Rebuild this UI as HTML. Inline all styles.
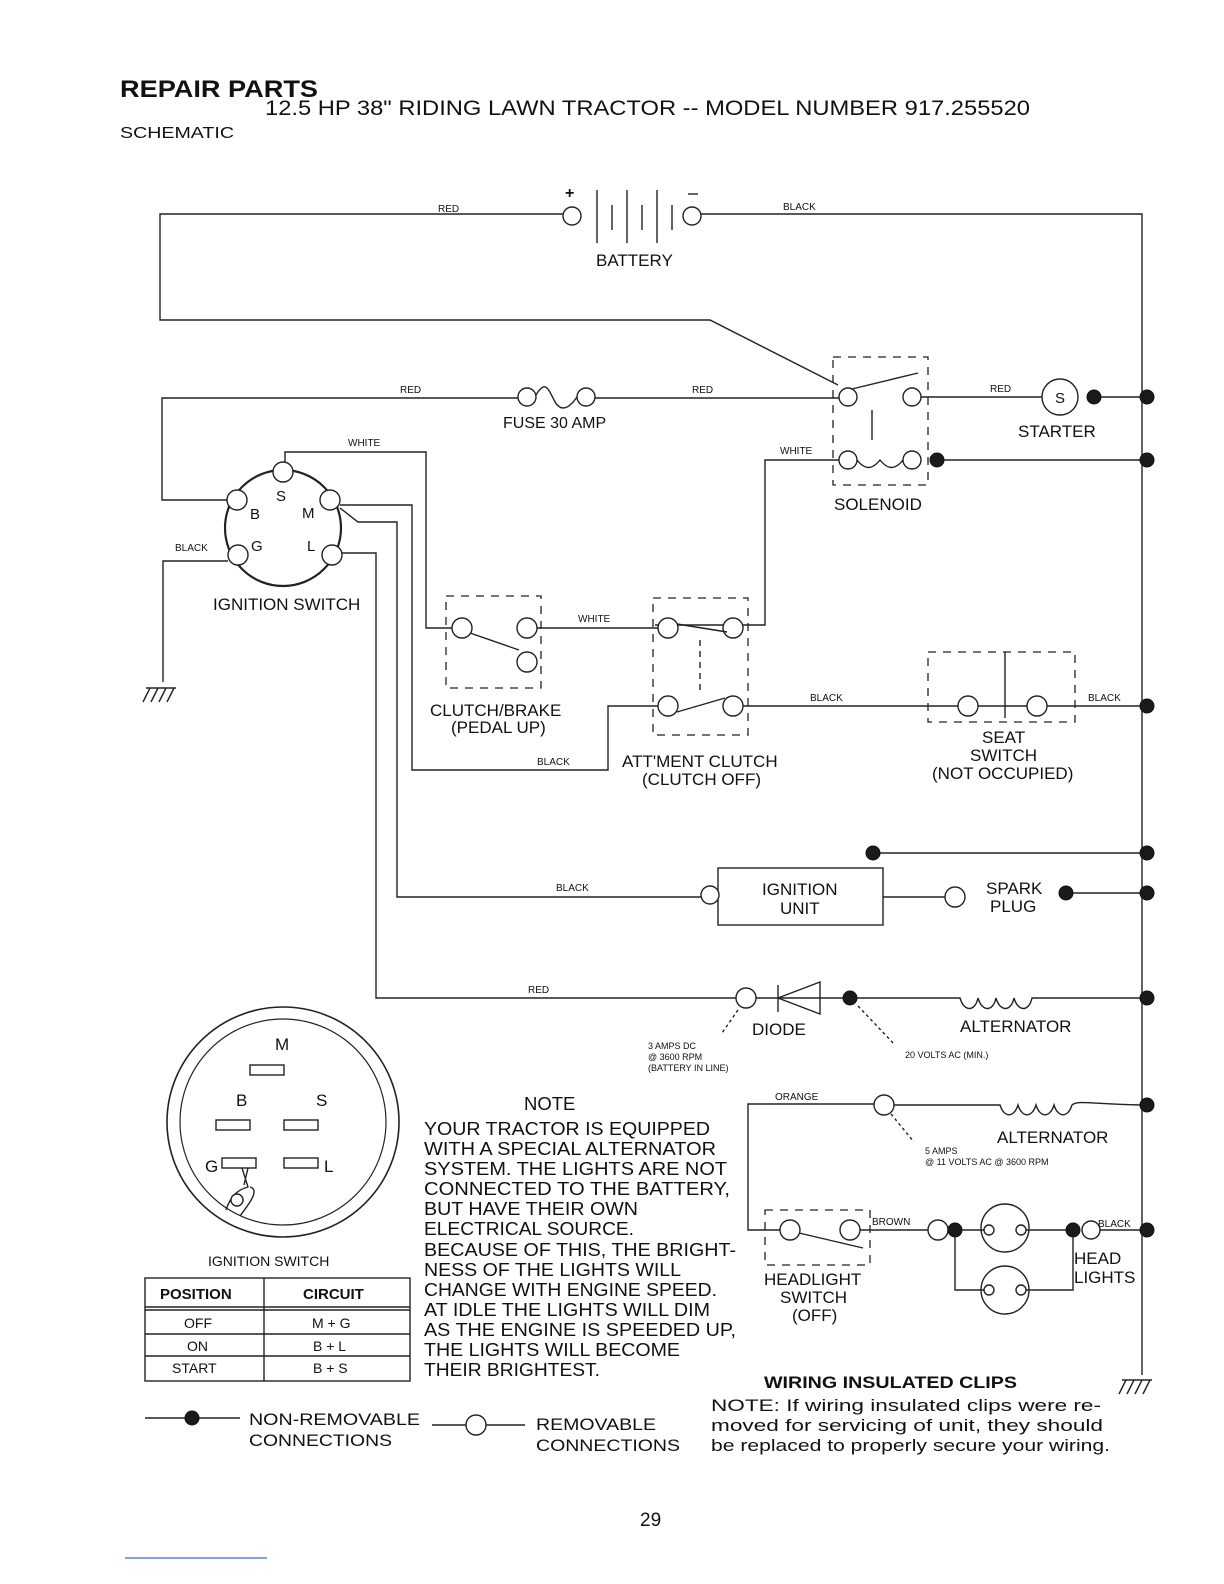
<!DOCTYPE html>
<html><head><meta charset="utf-8"><style>
html,body{margin:0;padding:0;background:#fff}
svg{display:block}
text{font-family:"Liberation Sans",Arial,sans-serif;fill:#111}
.w{stroke:#222;stroke-width:1.4;fill:none}
.c{stroke:#222;stroke-width:1.4;fill:#fff}
.d{fill:#1a1a1a;stroke:#111}
.dash{stroke:#222;stroke-width:1.3;fill:none;stroke-dasharray:8 7}
.s{font-size:10px}
.m{font-size:17px}
</style></head><body>
<svg width="1224" height="1584" viewBox="0 0 1224 1584" xmlns="http://www.w3.org/2000/svg">
<text x="120" y="97" font-size="24" font-weight="bold" textLength="198" lengthAdjust="spacingAndGlyphs">REPAIR PARTS</text>
<text x="265" y="115" font-size="21" textLength="765" lengthAdjust="spacingAndGlyphs">12.5 HP 38" RIDING LAWN TRACTOR -- MODEL NUMBER 917.255520</text>
<text x="120" y="138" font-size="16" textLength="114" lengthAdjust="spacingAndGlyphs">SCHEMATIC</text>

<!-- battery loop -->
<path class="w" d="M563 214H160V320H710L838 385"/>
<circle class="c" cx="572" cy="216" r="9"/>
<text x="565" y="198" font-size="16" font-weight="bold">+</text>
<path class="w" d="M597 190V243M612 205V230M627 190V243M642 205V230M657 190V243M672 205V230"/>
<circle class="c" cx="692" cy="216" r="9"/>
<path class="w" d="M688 194H698"/>
<path class="w" d="M701 214H1142V1375"/>
<text x="438" y="212" class="s">RED</text>
<text x="783" y="210" class="s">BLACK</text>
<text x="596" y="266" class="m">BATTERY</text>

<!-- fuse -->
<path class="w" d="M518 398H162V500H228"/>
<circle class="c" cx="527" cy="397" r="9"/>
<path class="w" d="M536 395C545 380 548 388 554 400C560 412 568 410 577 397"/>
<circle class="c" cx="586" cy="397" r="9"/>
<path class="w" d="M595 398H839"/>
<text x="400" y="393" class="s">RED</text>
<text x="692" y="393" class="s">RED</text>
<text x="503" y="428" font-size="16">FUSE 30 AMP</text>

<!-- solenoid -->
<rect class="dash" x="833" y="357" width="95" height="128"/>
<circle class="c" cx="848" cy="397" r="9"/>
<circle class="c" cx="912" cy="397" r="9"/>
<path class="w" d="M852 389L918 373"/>
<path class="w" d="M872 410V440"/>
<circle class="c" cx="848" cy="460" r="9"/>
<circle class="c" cx="912" cy="460" r="9"/>
<path class="w" d="M857 460C865 470 872 470 880 460C888 470 895 470 903 460"/>
<circle class="d" cx="937" cy="460" r="7"/>
<path class="w" d="M944 460H1140"/>
<circle class="d" cx="1147" cy="460" r="7"/>
<path class="w" d="M921 397H1042"/>
<circle class="c" cx="1060" cy="397" r="18"/>
<text x="1055" y="403" font-size="15">S</text>
<circle class="d" cx="1094" cy="397" r="7"/>
<path class="w" d="M1101 397H1140"/>
<circle class="d" cx="1147" cy="397" r="7"/>
<text x="990" y="392" class="s">RED</text>
<text x="1018" y="437" class="m">STARTER</text>
<text x="834" y="510" class="m">SOLENOID</text>
<path class="w" d="M839 460H765V625H655"/>
<text x="780" y="454" class="s">WHITE</text>

<!-- ignition switch -->
<circle cx="283" cy="528" r="58" fill="none" stroke="#222" stroke-width="2.2"/>
<circle class="c" cx="283" cy="472" r="10"/>
<circle class="c" cx="237" cy="500" r="10"/>
<circle class="c" cx="330" cy="500" r="10"/>
<circle class="c" cx="238" cy="555" r="10"/>
<circle class="c" cx="332" cy="555" r="10"/>
<text x="276" y="501" font-size="15">S</text>
<text x="250" y="519" font-size="15">B</text>
<text x="302" y="518" font-size="15">M</text>
<text x="251" y="551" font-size="15">G</text>
<text x="307" y="551" font-size="15">L</text>
<text x="213" y="610" class="m">IGNITION SWITCH</text>
<path class="w" d="M228 561H163V682"/>
<path class="w" d="M150 688L143 702M158 688L151 702M166 688L159 702M174 688L167 702M146 688H176"/>
<text x="175" y="551" class="s">BLACK</text>
<path class="w" d="M285 462V452H426V628H453"/>
<text x="348" y="446" class="s">WHITE</text>
<path class="w" d="M340 505H412V770H608V706H659"/>
<path class="w" d="M340 508L358 522H397V897H706"/>
<path class="w" d="M342 553H376V998H737"/>
<text x="537" y="765" class="s">BLACK</text>
<text x="556" y="891" class="s">BLACK</text>
<text x="528" y="993" class="s">RED</text>

<!-- clutch/brake -->
<rect class="dash" x="446" y="596" width="95" height="92"/>
<circle class="c" cx="462" cy="628" r="10"/>
<circle class="c" cx="527" cy="628" r="10"/>
<circle class="c" cx="527" cy="662" r="10"/>
<path class="w" d="M470 633L519 650"/>
<path class="w" d="M537 628H659"/>
<text x="578" y="622" class="s">WHITE</text>
<text x="430" y="716" class="m">CLUTCH/BRAKE</text>
<text x="451" y="733" class="m">(PEDAL UP)</text>

<!-- attment clutch -->
<rect class="dash" x="653" y="598" width="95" height="137"/>
<circle class="c" cx="668" cy="628" r="10"/>
<circle class="c" cx="733" cy="628" r="10"/>
<circle class="c" cx="668" cy="706" r="10"/>
<circle class="c" cx="733" cy="706" r="10"/>
<path class="w" d="M677 624L727 632M677 712L725 698"/>
<path class="w" d="M700 640V694" stroke-dasharray="6 5"/>
<path class="w" d="M743 706H958"/>
<text x="810" y="701" class="s">BLACK</text>
<text x="622" y="767" class="m">ATT'MENT CLUTCH</text>
<text x="642" y="785" class="m">(CLUTCH OFF)</text>

<!-- seat switch -->
<rect class="dash" x="928" y="652" width="147" height="70"/>
<circle class="c" cx="968" cy="706" r="10"/>
<circle class="c" cx="1037" cy="706" r="10"/>
<path class="w" d="M1005 652V718M978 706H1027"/>
<path class="w" d="M1047 706H1140"/>
<circle class="d" cx="1147" cy="706" r="7"/>
<text x="1088" y="701" class="s">BLACK</text>
<text x="982" y="743" class="m">SEAT</text>
<text x="970" y="761" class="m">SWITCH</text>
<text x="932" y="779" class="m">(NOT OCCUPIED)</text>

<!-- ignition unit -->
<rect class="w" x="718" y="868" width="165" height="57"/>
<circle class="c" cx="710" cy="895" r="9"/>
<text x="762" y="895" class="m">IGNITION</text>
<text x="780" y="914" class="m">UNIT</text>
<path class="w" d="M883 897H945"/>
<circle class="c" cx="955" cy="897" r="10"/>
<text x="986" y="894" class="m">SPARK</text>
<text x="990" y="912" class="m">PLUG</text>
<circle class="d" cx="1066" cy="893" r="7"/>
<path class="w" d="M1073 893H1140"/>
<circle class="d" cx="1147" cy="893" r="7"/>
<circle class="d" cx="873" cy="853" r="7"/>
<path class="w" d="M880 853H1140"/>
<circle class="d" cx="1147" cy="853" r="7"/>

<!-- diode -->
<circle class="c" cx="746" cy="998" r="10"/>
<path class="w" d="M756 998H843"/>
<path class="w" d="M778 985V1012M778 998L820 982V1014Z"/>
<circle class="d" cx="850" cy="998" r="7"/>
<path class="w" d="M857 998H960C964 1012 975 1012 978 998C982 1012 993 1012 996 998C1000 1012 1011 1012 1014 998C1018 1012 1029 1012 1032 998H1140"/>
<circle class="d" cx="1147" cy="998" r="7"/>
<text x="752" y="1035" class="m">DIODE</text>
<text x="960" y="1032" class="m">ALTERNATOR</text>
<path class="w" d="M738 1010L722 1033M858 1006L895 1045" stroke-dasharray="3 3"/>
<text x="648" y="1049" font-size="9">3 AMPS DC</text>
<text x="648" y="1060" font-size="9">@ 3600 RPM</text>
<text x="648" y="1071" font-size="9">(BATTERY IN LINE)</text>
<text x="905" y="1058" font-size="9">20 VOLTS AC (MIN.)</text>

<!-- ignition switch diagram -->
<ellipse cx="283" cy="1122" rx="116" ry="115" fill="none" stroke="#222" stroke-width="1.6"/>
<ellipse cx="283" cy="1122" rx="103" ry="103" fill="none" stroke="#222" stroke-width="1.2"/>
<text x="275" y="1050" class="m">M</text>
<rect class="w" x="250" y="1065" width="34" height="10"/>
<text x="236" y="1106" class="m">B</text>
<rect class="w" x="216" y="1120" width="34" height="10"/>
<text x="316" y="1106" class="m">S</text>
<rect class="w" x="284" y="1120" width="34" height="10"/>
<text x="205" y="1172" class="m">G</text>
<rect class="w" x="222" y="1158" width="34" height="10"/>
<rect class="w" x="284" y="1158" width="34" height="10"/>
<text x="324" y="1172" class="m">L</text>
<path class="w" d="M226 1210C230 1198 236 1190 248 1187L242 1168M250 1187C262 1190 244 1210 240 1216M248 1168L244 1185"/>
<circle class="c" cx="237" cy="1200" r="6"/>
<text x="208" y="1266" font-size="14">IGNITION SWITCH</text>
<rect class="w" x="145" y="1278" width="265" height="103"/>
<path class="w" d="M264 1278V1381M145 1310H410M145 1334H410M145 1356H410"/>
<path class="w" d="M145 1307H410" stroke-width="1"/>
<text x="160" y="1299" font-size="15" font-weight="bold">POSITION</text>
<text x="303" y="1299" font-size="15" font-weight="bold">CIRCUIT</text>
<text x="184" y="1328" font-size="14">OFF</text>
<text x="312" y="1328" font-size="14">M + G</text>
<text x="187" y="1351" font-size="14">ON</text>
<text x="313" y="1351" font-size="14">B + L</text>
<text x="172" y="1373" font-size="14">START</text>
<text x="313" y="1373" font-size="14">B + S</text>

<!-- note -->
<g font-size="18.5" lengthAdjust="spacingAndGlyphs">
<text x="524" y="1110">NOTE</text>
<text x="424" y="1135" textLength="286" lengthAdjust="spacingAndGlyphs">YOUR TRACTOR IS EQUIPPED</text>
<text x="424" y="1155" textLength="292" lengthAdjust="spacingAndGlyphs">WITH A SPECIAL ALTERNATOR</text>
<text x="424" y="1175" textLength="303" lengthAdjust="spacingAndGlyphs">SYSTEM.  THE LIGHTS ARE NOT</text>
<text x="424" y="1195" textLength="306" lengthAdjust="spacingAndGlyphs">CONNECTED TO  THE BATTERY,</text>
<text x="424" y="1215" textLength="214" lengthAdjust="spacingAndGlyphs">BUT HAVE THEIR OWN</text>
<text x="424" y="1235" textLength="210" lengthAdjust="spacingAndGlyphs">ELECTRICAL SOURCE.</text>
<text x="424" y="1256" textLength="312" lengthAdjust="spacingAndGlyphs">BECAUSE OF THIS, THE BRIGHT-</text>
<text x="424" y="1276" textLength="257" lengthAdjust="spacingAndGlyphs">NESS OF THE LIGHTS WILL</text>
<text x="424" y="1296" textLength="293" lengthAdjust="spacingAndGlyphs">CHANGE WITH ENGINE SPEED.</text>
<text x="424" y="1316" textLength="286" lengthAdjust="spacingAndGlyphs">AT IDLE THE LIGHTS WILL DIM</text>
<text x="424" y="1336" textLength="312" lengthAdjust="spacingAndGlyphs">AS THE ENGINE IS SPEEDED UP,</text>
<text x="424" y="1356" textLength="256" lengthAdjust="spacingAndGlyphs">THE LIGHTS WILL BECOME</text>
<text x="424" y="1376" textLength="176" lengthAdjust="spacingAndGlyphs">THEIR BRIGHTEST.</text>
</g>

<!-- lights alternator -->
<path class="w" d="M875 1104H748V1230H780"/>
<text x="775" y="1100" class="s">ORANGE</text>
<circle class="c" cx="884" cy="1105" r="10"/>
<path class="w" d="M894 1105H1000C1004 1118 1014 1118 1018 1105C1022 1118 1032 1118 1036 1105C1040 1118 1050 1118 1054 1105C1058 1118 1068 1118 1072 1105C1078 1100 1090 1104 1140 1105"/>
<circle class="d" cx="1147" cy="1105" r="7"/>
<path class="w" d="M891 1114L914 1142" stroke-dasharray="3 3"/>
<text x="997" y="1143" class="m">ALTERNATOR</text>
<text x="925" y="1154" font-size="9">5 AMPS</text>
<text x="925" y="1165" font-size="9">@ 11 VOLTS AC @ 3600 RPM</text>
<rect class="dash" x="765" y="1210" width="105" height="55"/>
<circle class="c" cx="790" cy="1230" r="10"/>
<circle class="c" cx="850" cy="1230" r="10"/>
<path class="w" d="M799 1233L863 1248"/>
<path class="w" d="M860 1230H928"/>
<text x="872" y="1225" class="s">BROWN</text>
<circle class="c" cx="938" cy="1230" r="10"/>
<circle class="d" cx="955" cy="1230" r="7"/>
<circle class="c" cx="1005" cy="1228" r="24"/>
<circle class="c" cx="989" cy="1230" r="5"/>
<circle class="c" cx="1021" cy="1230" r="5"/>
<circle class="c" cx="1005" cy="1290" r="24"/>
<circle class="c" cx="989" cy="1290" r="5"/>
<circle class="c" cx="1021" cy="1290" r="5"/>
<path class="w" d="M962 1230H984M1026 1230H1066M955 1237V1290H984M1026 1290H1073V1237"/>
<circle class="d" cx="1073" cy="1230" r="7"/>
<circle class="c" cx="1091" cy="1230" r="9"/>
<path class="w" d="M1100 1230H1140"/>
<circle class="d" cx="1147" cy="1230" r="7"/>
<text x="1098" y="1227" class="s">BLACK</text>
<text x="1074" y="1264" class="m">HEAD</text>
<text x="1074" y="1283" class="m">LIGHTS</text>
<text x="764" y="1285" class="m">HEADLIGHT</text>
<text x="780" y="1303" class="m">SWITCH</text>
<text x="792" y="1321" class="m">(OFF)</text>
<path class="w" d="M1126 1380L1119 1394M1134 1380L1127 1394M1142 1380L1135 1394M1150 1380L1143 1394M1122 1380H1152"/>

<!-- legend -->
<path class="w" d="M145 1418H240"/>
<circle class="d" cx="192" cy="1418" r="7"/>
<text x="249" y="1425" class="m" textLength="171" lengthAdjust="spacingAndGlyphs">NON-REMOVABLE</text>
<text x="249" y="1446" class="m" textLength="143" lengthAdjust="spacingAndGlyphs">CONNECTIONS</text>
<path class="w" d="M432 1425H525"/>
<circle class="c" cx="476" cy="1425" r="10"/>
<text x="536" y="1430" class="m" textLength="120" lengthAdjust="spacingAndGlyphs">REMOVABLE</text>
<text x="536" y="1451" class="m" textLength="144" lengthAdjust="spacingAndGlyphs">CONNECTIONS</text>
<text x="764" y="1388" font-size="17" font-weight="bold" textLength="253" lengthAdjust="spacingAndGlyphs">WIRING INSULATED CLIPS</text>
<text x="711" y="1411" font-size="17" textLength="390" lengthAdjust="spacingAndGlyphs">NOTE: If wiring insulated clips  were  re-</text>
<text x="711" y="1431" font-size="17" textLength="392" lengthAdjust="spacingAndGlyphs">moved  for servicing  of  unit,  they should</text>
<text x="711" y="1451" font-size="17" textLength="399" lengthAdjust="spacingAndGlyphs">be replaced to properly secure your wiring.</text>
<text x="640" y="1526" font-size="19">29</text>
<path d="M125 1558H267" stroke="#4466cc" stroke-width="1.2"/>
</svg>
</body></html>
